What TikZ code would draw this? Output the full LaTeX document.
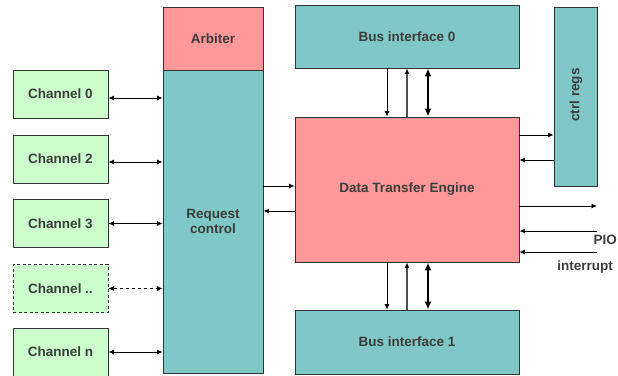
\documentclass[tikz,border=0pt]{standalone}
\usepackage{fontspec}
\setmainfont{Liberation Sans}
\usetikzlibrary{arrows.meta}
\definecolor{chgreen}{HTML}{CCFFCC}
\definecolor{tealbox}{HTML}{80C8C8}
\definecolor{pinkbox}{HTML}{FF9999}
\definecolor{edgecol}{HTML}{333333}
\definecolor{txtcol}{HTML}{3C3C3C}
\definecolor{graylink}{HTML}{505050}
\begin{document}
\begin{tikzpicture}[x=1pt,y=-1pt,
  box/.style={draw=edgecol, line width=0.9pt, inner sep=0pt, text=txtcol,
    font=\fontsize{13.5}{15}\selectfont\bfseries, align=center},
  chbox/.style={box, fill=chgreen, minimum width=95, minimum height=48},
  lbl/.style={inner sep=0pt, text=txtcol, font=\fontsize{13.5}{15}\selectfont\bfseries, align=center},
  tip/.tip={Latex[length=5.5pt,width=5pt]},
  graytip/.tip={Latex[length=5.5pt,width=5pt,color=black]},
  bigtip/.tip={Latex[length=8pt,width=7pt]},
  arr/.style={-tip, line width=0.8pt, draw=black},
  grayarr/.style={-graytip, line width=1.2pt, draw=graylink},
  darr/.style={tip-tip, line width=0.8pt, draw=black},
  thickarr/.style={bigtip-bigtip, line width=2.3pt, draw=black}]
\useasboundingbox (0,0) rectangle (618,375);

% channels
\node[chbox] (ch0) at (60.5,94) {Channel 0};
\node[chbox] (ch2) at (60.5,159) {Channel 2};
\node[chbox] (ch3) at (60.5,223.5) {Channel 3};
\node[chbox, dashed, dash pattern=on 3pt off 2.5pt] (chd) at (60.5,288.5) {Channel ..};
\node[chbox] (chn) at (60.5,352) {Channel n};

% arbiter / request control
\node[box, fill=pinkbox, minimum width=100, minimum height=63] (arb) at (213,38.5) {Arbiter};
\node[box, fill=tealbox, minimum width=100, minimum height=303] (req) at (213,221.5) {Request\\control};

% bus interfaces and engine
\node[box, fill=tealbox, minimum width=224, minimum height=63] (bus0) at (407,36.5) {Bus interface 0};
\node[box, fill=pinkbox, minimum width=224, minimum height=145] (dte) at (407,189.5) {Data Transfer Engine};
\node[box, fill=tealbox, minimum width=224, minimum height=64] (bus1) at (407,342) {Bus interface 1};

% ctrl regs
\node[box, fill=tealbox, minimum width=43, minimum height=179] (ctrl) at (575.5,96.5) {};
\node[lbl, rotate=90] (ctrltxt) at (576,95) {ctrl regs};

% channel links
\draw[darr] ([yshift=-4pt]ch0.east) -- ([yshift=-4pt]ch0.east -| req.west);
\draw[darr] ([yshift=-3pt]ch2.east) -- ([yshift=-3pt]ch2.east -| req.west);
\draw[darr] (ch3.east) -- (ch3.east -| req.west);
\draw[darr, dash pattern=on 3.5pt off 2.5pt] (chd.east) -- (chd.east -| req.west);
\draw[darr] (chn.east) -- (chn.east -| req.west);

% request control <-> engine
\draw[arr] ([yshift=3.5pt]req.east |- dte.west) -- ([yshift=3.5pt]dte.west);
\draw[arr] ([yshift=-21.5pt]dte.west) -- ([yshift=-21.5pt]dte.west -| req.east);

% bus 0 <-> engine
\draw[arr] ([xshift=-20pt]bus0.south) -- ([xshift=-20pt]dte.north);
\draw[grayarr] (dte.north) -- (bus0.south);
\draw[thickarr] ([xshift=21pt]bus0.south) -- ([xshift=21pt]dte.north);

% engine <-> bus 1
\draw[arr] ([xshift=-20pt]dte.south) -- ([xshift=-20pt]bus1.north);
\draw[grayarr] (bus1.north) -- (dte.south);
\draw[thickarr] ([xshift=21pt]dte.south) -- ([xshift=21pt]bus1.north);

% engine <-> ctrl regs
\draw[arr] ([yshift=54.5pt]dte.east) -- ([yshift=54.5pt]dte.east -| ctrl.west);
\draw[arr] ([yshift=29.5pt]dte.east -| ctrl.west) -- ([yshift=29.5pt]dte.east);

% outside links
\coordinate (out1) at (597,206);
\coordinate (pio) at (597,231);
\coordinate (irq) at (597,252);
\draw[arr] (dte.east |- out1) -- (out1);
\draw[arr] (pio) -- (dte.east |- pio);
\draw[arr] (irq) -- (dte.east |- irq);
\node[lbl, anchor=east] (piotxt) at (617,240) {PIO};
\node[lbl] (irqtxt) at (585,267) {interrupt};
\end{tikzpicture}
\end{document}
